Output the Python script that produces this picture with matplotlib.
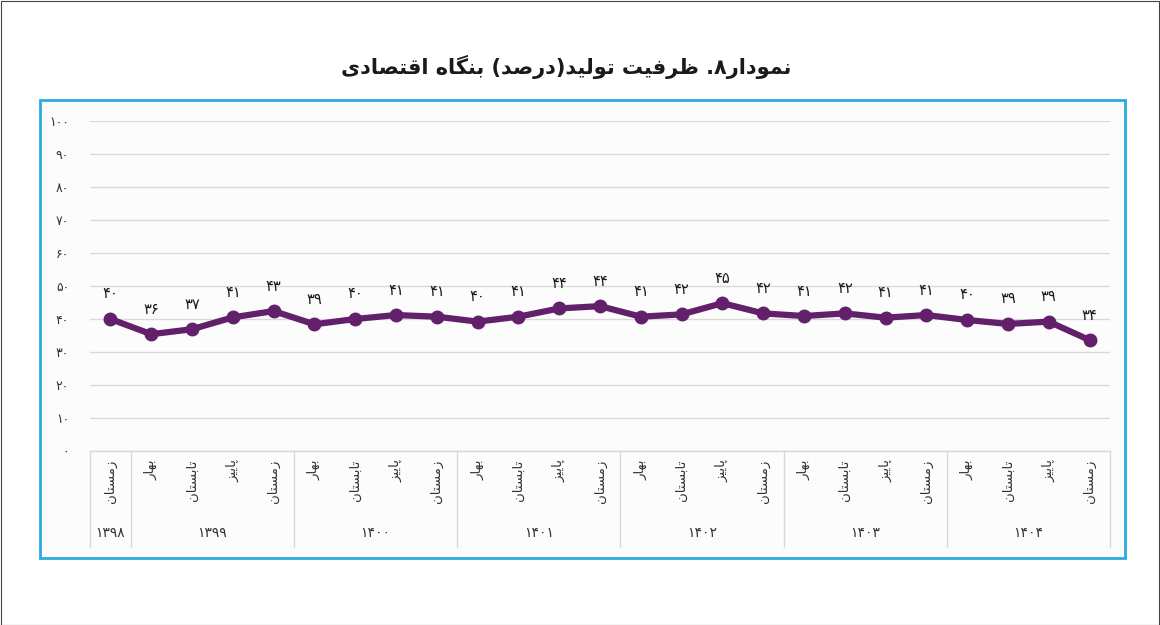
import matplotlib
matplotlib.use("Agg")
import matplotlib.pyplot as plt
import matplotlib.transforms as mtransforms
from matplotlib.patches import Rectangle

# Data
years = [1398, 1399, 1400, 1401, 1402, 1403, 1404]
year_counts = [1, 4, 4, 4, 4, 4, 4]
seasons = ['زمستان'] + ['بهار', 'تابستان', 'پاییز', 'زمستان'] * 6
capacity = [40.0, 35.4, 36.9, 40.5, 42.4, 38.4, 40.0, 41.2, 40.7, 39.2,
            40.7, 43.2, 43.9, 40.7, 41.4, 44.8, 41.7, 40.9, 41.7, 40.4,
            41.2, 39.7, 38.5, 39.2, 33.6]
capacity_labels = [40, 36, 37, 41, 43, 39, 40, 41, 41, 40, 41, 44, 44,
                   41, 42, 45, 42, 41, 42, 41, 41, 40, 39, 39, 34]
y_ticks = [0, 10, 20, 30, 40, 50, 60, 70, 80, 90, 100]
title = 'نمودار۸. ظرفیت تولید(درصد) بنگاه اقتصادی'

# matplotlib has no arabic shaping, so pick presentation forms by hand
# (isolated, final, initial, medial)
FORMS = {
    'ا': ('\uFE8D', '\uFE8E'),
    'ب': ('\uFE8F', '\uFE90', '\uFE91', '\uFE92'),
    'پ': ('\uFB56', '\uFB57', '\uFB58', '\uFB59'),
    'ت': ('\uFE95', '\uFE96', '\uFE97', '\uFE98'),
    'د': ('\uFEA9', '\uFEAA'),
    'ر': ('\uFEAD', '\uFEAE'),
    'ز': ('\uFEAF', '\uFEB0'),
    'س': ('\uFEB1', '\uFEB2', '\uFEB3', '\uFEB4'),
    'ص': ('\uFEB9', '\uFEBA', '\uFEBB', '\uFEBC'),
    'ظ': ('\uFEC5', '\uFEC6', '\uFEC7', '\uFEC8'),
    'ف': ('\uFED1', '\uFED2', '\uFED3', '\uFED4'),
    'ق': ('\uFED5', '\uFED6', '\uFED7', '\uFED8'),
    'گ': ('\uFB92', '\uFB93', '\uFB94', '\uFB95'),
    'ل': ('\uFEDD', '\uFEDE', '\uFEDF', '\uFEE0'),
    'م': ('\uFEE1', '\uFEE2', '\uFEE3', '\uFEE4'),
    'ن': ('\uFEE5', '\uFEE6', '\uFEE7', '\uFEE8'),
    'ه': ('\uFEE9', '\uFEEA', '\uFEEB', '\uFEEC'),
    'و': ('\uFEED', '\uFEEE'),
    'ی': ('\uFBFC', '\uFBFD', '\uFBFE', '\uFBFF'),
}


def rtl(s):
    '''Shape persian text and put it in visual (left to right) order.'''
    out = []
    for i, c in enumerate(s):
        if c not in FORMS:
            out.append(c)
            continue
        f = FORMS[c]
        prev = s[i - 1] if i > 0 else ''
        nxt = s[i + 1] if i + 1 < len(s) else ''
        jp = prev in FORMS and len(FORMS[prev]) == 4
        jn = len(f) == 4 and nxt in FORMS
        if jp and jn:
            out.append(f[3])
        elif jp:
            out.append(f[1])
        elif jn:
            out.append(f[2])
        else:
            out.append(f[0])
    vis = ''.join(reversed(out))
    return vis.translate(str.maketrans('()', ')('))


def fa(n):
    return str(n).translate(str.maketrans('0123456789', '۰۱۲۳۴۵۶۷۸۹'))


plt.rcParams['font.family'] = ['DejaVu Sans']

W, H = 1160, 625
fig = plt.figure(figsize=(W / 100, H / 100), dpi=100)

# outer border and blue frame
fig.patches.append(Rectangle((0.5 / W, 0.5 / H), 1 - 1.5 / W, 1 - 1.5 / H,
                             transform=fig.transFigure, fill=False,
                             edgecolor='#444444', lw=0.8, zorder=-2))
fig.patches.append(Rectangle((40 / W, (H - 558) / H), 1085 / W, 458 / H,
                             transform=fig.transFigure, facecolor='#fcfcfd',
                             edgecolor='#29abe2', lw=2.0, zorder=-1))

fig.text(566 / W, 1 - 67 / H, rtl(title), ha='center', va='center',
         fontsize=15, fontweight='bold', color='#1a1a1a')

ax = fig.add_axes([90 / W, (H - 451) / H, 1020 / W, 330 / H])
ax.set_facecolor('none')
x = list(range(len(capacity)))
ax.plot(x, capacity, color='#62206b', lw=4.5, marker='o', ms=9,
        solid_joinstyle='round', zorder=3)
for xi, v, lab in zip(x, capacity, capacity_labels):
    ax.annotate(fa(lab), (xi, v), xytext=(0, 18), textcoords='offset points',
                ha='center', va='center', fontsize=10.5, color='#1a1a1a')

ax.set_xlim(-0.5, len(capacity) - 0.5)
ax.set_ylim(0, 100)
ax.set_yticks(y_ticks)
ax.set_yticklabels([fa(t) for t in y_ticks], fontsize=9, color='#333333')
ax.tick_params(axis='y', length=0, pad=15)
ax.set_xticks([])
ax.grid(axis='y', color='#d9d9d9', lw=1)
for s in ax.spines.values():
    s.set_visible(False)

# category table below the axis
trans = mtransforms.blended_transform_factory(ax.transData, ax.transAxes)
ax.plot([-0.5, len(capacity) - 0.5], [0, 0], transform=trans,
        color='#d9d9d9', lw=1, clip_on=False)
start = -0.5
bounds = [start]
for n in year_counts:
    start += n
    bounds.append(start)
for b in bounds:
    ax.plot([b, b], [0, -0.29], transform=trans, color='#d9d9d9', lw=1,
            clip_on=False)
for xi, s in zip(x, seasons):
    ax.text(xi, -0.025, rtl(s), transform=trans, rotation=90, ha='center',
            va='top', fontsize=9.5, color='#333333')
for i, yr in enumerate(years):
    mid = (bounds[i] + bounds[i + 1]) / 2
    ax.text(mid, -0.248, fa(yr), transform=trans, ha='center', va='center',
            fontsize=10, color='#333333')

fig.savefig('out.png', dpi=100)
